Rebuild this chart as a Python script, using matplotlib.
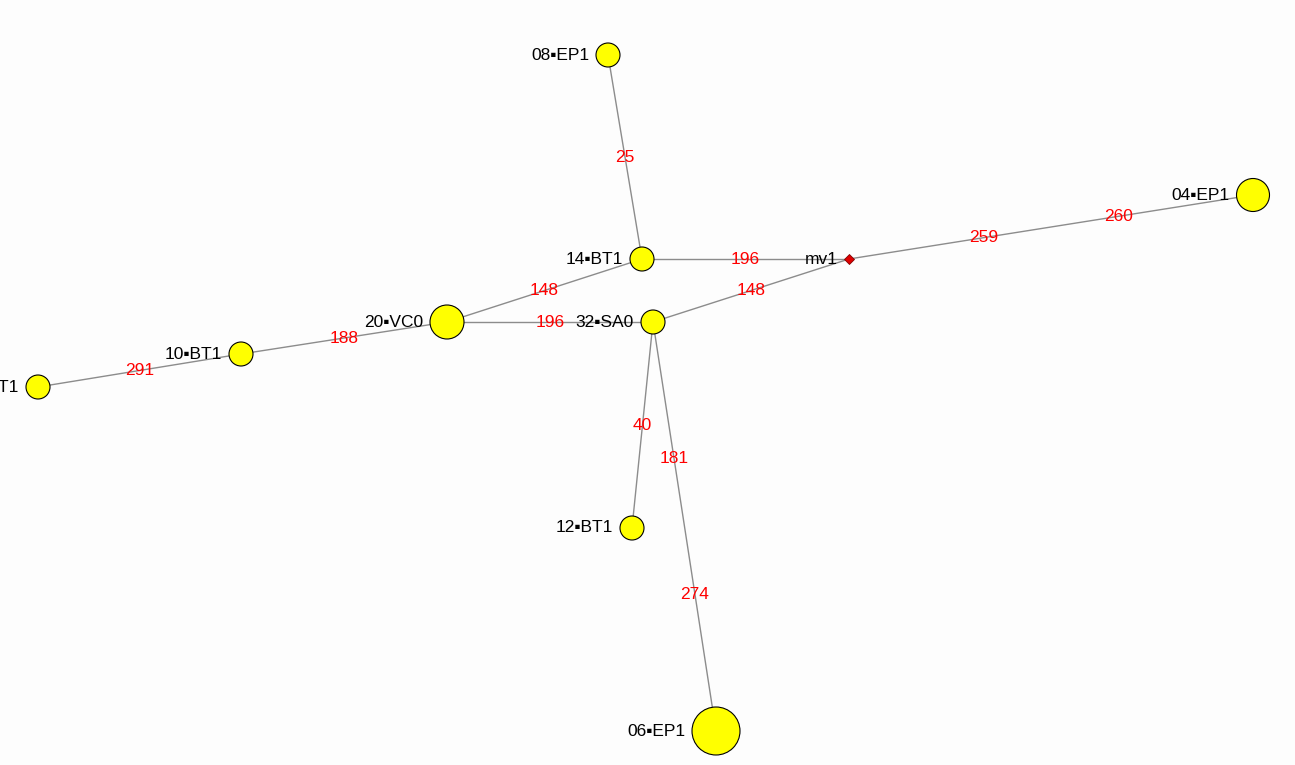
import matplotlib.pyplot as plt
from matplotlib.patches import Circle

# node layout (screen-like coords, y grows downward)
node_names = ["08▪EP1", "14▪BT1", "mv1", "04▪EP1", "20▪VC0", "32▪SA0",
              "10▪BT1", "16▪BT1", "12▪BT1", "06▪EP1"]
node_x = [608, 642, 849, 1253, 447, 653, 241, 38, 632, 716]
node_y = [55, 259, 259, 195, 322, 322, 354, 387, 528, 731]
node_r = [12, 12, 0, 16.5, 17, 12, 12, 12, 12, 24]

# edges: (from, to, weight labels)
edge_src = ["08▪EP1", "14▪BT1", "mv1", "20▪VC0", "20▪VC0", "32▪SA0",
            "10▪BT1", "16▪BT1", "32▪SA0", "32▪SA0"]
edge_dst = ["14▪BT1", "mv1", "04▪EP1", "14▪BT1", "32▪SA0", "mv1",
            "20▪VC0", "10▪BT1", "12▪BT1", "06▪EP1"]
edge_weights = [[25], [196], [259, 260], [148], [196], [148],
                [188], [291], [40], [181, 274]]

plt.rcParams['font.family'] = ['Liberation Sans', 'DejaVu Sans']

fig = plt.figure(figsize=(12.95, 7.65), dpi=100)
fig.patch.set_facecolor('#fdfdfd')
ax = fig.add_axes([0, 0, 1, 1])
ax.set_facecolor('#fdfdfd')
ax.set_xlim(0, 1295)
ax.set_ylim(765, 0)
ax.set_aspect('equal')
ax.axis('off')

pos = {n: (x, y) for n, x, y in zip(node_names, node_x, node_y)}

for s, d, ws in zip(edge_src, edge_dst, edge_weights):
    (x0, y0), (x1, y1) = pos[s], pos[d]
    ax.plot([x0, x1], [y0, y1], color='#8c8c8c', lw=1.0, zorder=1)
    n = len(ws)
    for i, w in enumerate(ws):
        t = (i + 1) / (n + 1)
        ax.text(x0 + t * (x1 - x0), y0 + t * (y1 - y0), str(w),
                color='#ff0000', fontsize=12.5, ha='center', va='center', zorder=3)

for name, x, y, r in zip(node_names, node_x, node_y, node_r):
    if r > 0:
        ax.add_patch(Circle((x, y), r, facecolor='#ffff00', edgecolor='black',
                            lw=0.8, zorder=2))
        gap = r + 7
    else:
        ax.plot(x, y, marker='D', ms=5, color='#e00000', mec='#800000',
                mew=0.6, zorder=2)
        gap = 11
    ax.text(x - gap, y, name, color='black', fontsize=12.5,
            ha='right', va='center', zorder=3)

fig.savefig('out.png', dpi=100, facecolor=fig.get_facecolor())
